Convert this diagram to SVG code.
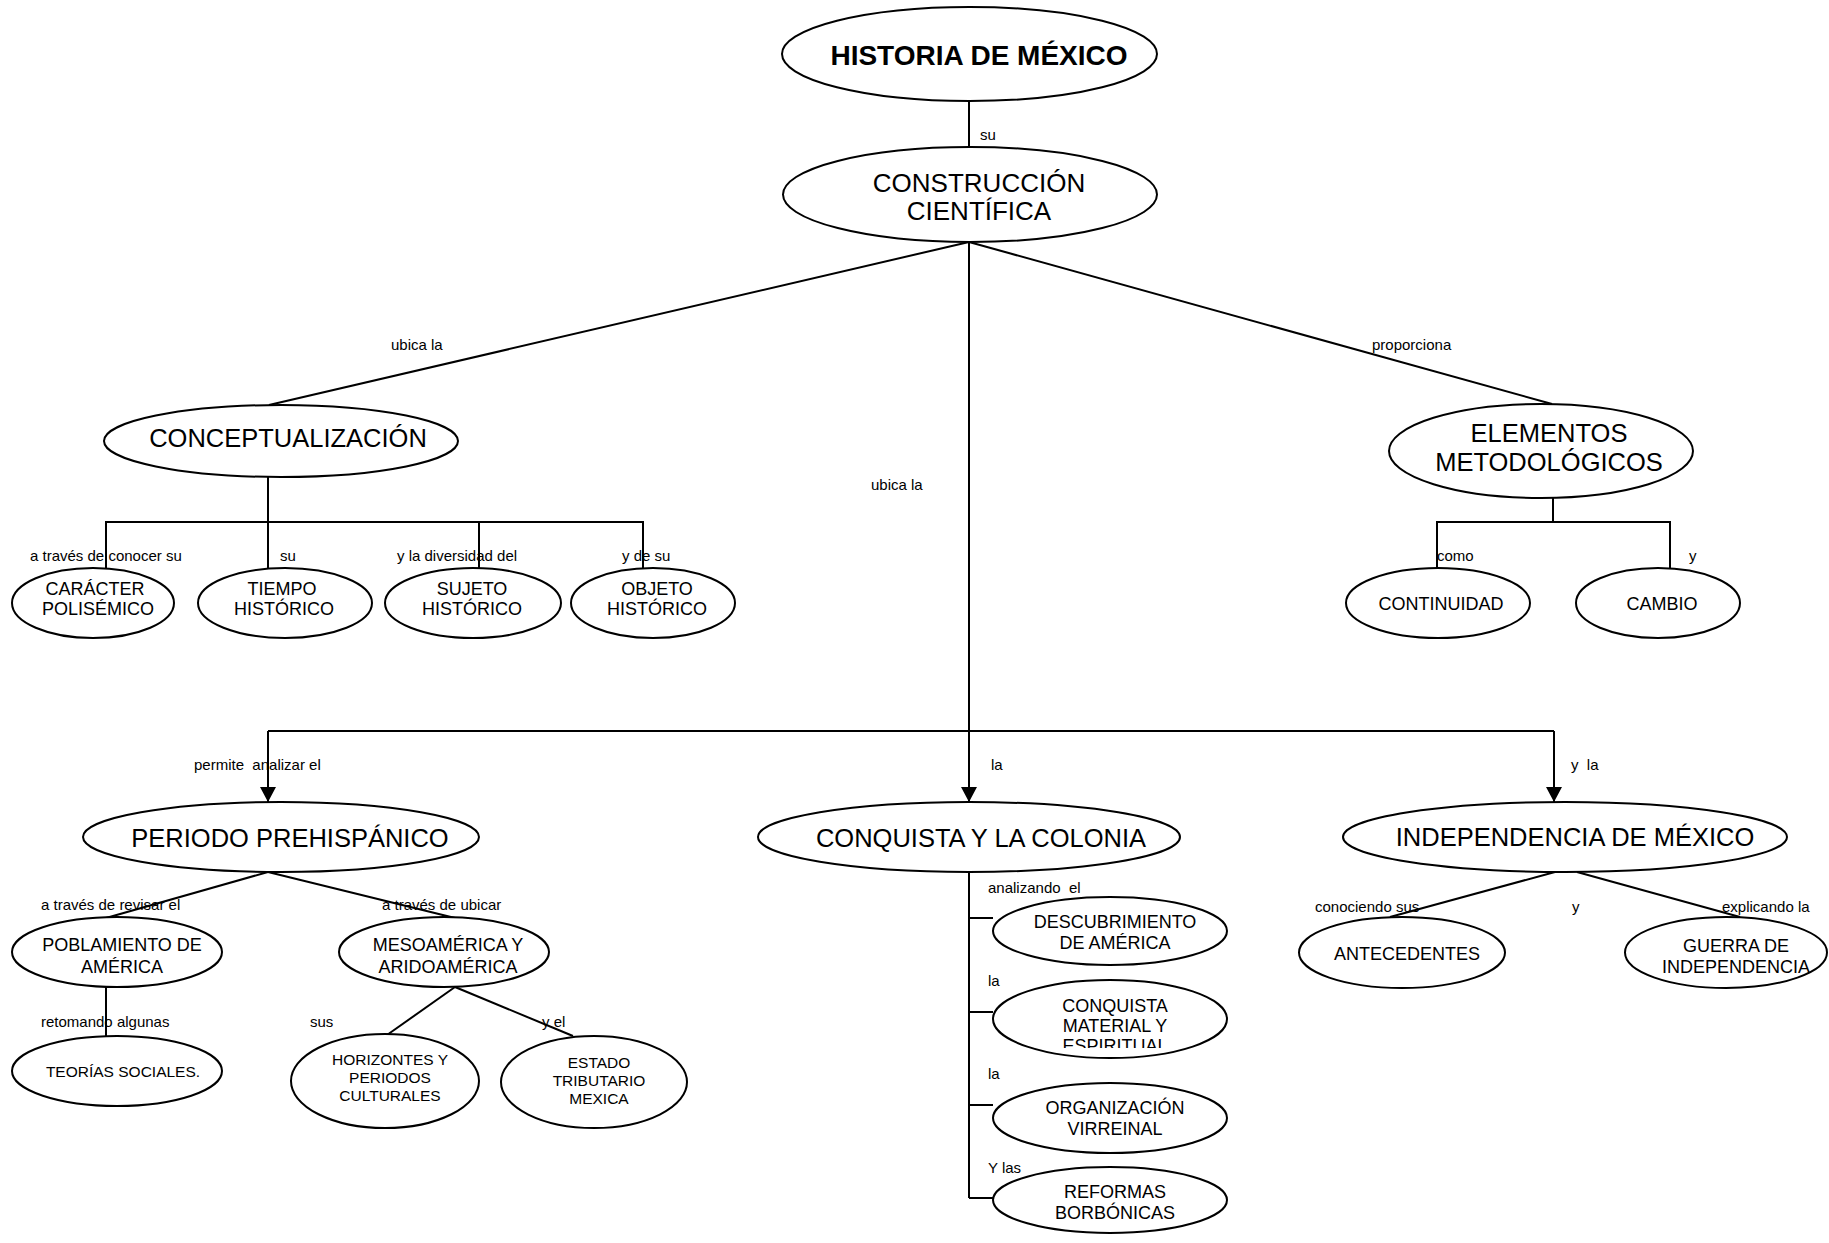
<svg xmlns="http://www.w3.org/2000/svg" width="1829" height="1243" viewBox="0 0 1829 1243">
<style>
.n{fill:#fff;stroke:#000;stroke-width:2}
.t{font-family:"Liberation Sans",Arial,sans-serif;text-anchor:middle;fill:#000}
.big{font-size:25.5px}
.mid{font-size:18px}
.sm{font-size:15.5px}
.lb{font-family:"Liberation Sans",Arial,sans-serif;font-size:15px;fill:#000}
.c{stroke:#000;stroke-width:2;fill:none}
</style>
<defs>
<marker id="ah" markerUnits="userSpaceOnUse" markerWidth="16" markerHeight="16" refX="15" refY="8" orient="auto" viewBox="0 0 16 16">
<path d="M0,0 L15,8 L0,16 Z" fill="#000"/>
</marker>
<clipPath id="clipEsp"><rect x="990" y="975" width="240" height="73"/></clipPath>
</defs>
<g id="connectors">
<line class="c" x1="969" y1="100" x2="969" y2="147"/>
<line class="c" x1="969" y1="242" x2="269" y2="405"/>
<line class="c" x1="969" y1="242" x2="1552" y2="404"/>
<line class="c" x1="969" y1="242" x2="969" y2="731"/>
<line class="c" x1="268" y1="477" x2="268" y2="522"/>
<polyline class="c" points="106,568 106,522 643,522 643,568"/>
<line class="c" x1="268" y1="522" x2="268" y2="568"/>
<line class="c" x1="479" y1="522" x2="479" y2="568"/>
<line class="c" x1="1553" y1="498" x2="1553" y2="522"/>
<polyline class="c" points="1437,568 1437,522 1670,522 1670,568"/>
<line class="c" x1="268" y1="731" x2="1554" y2="731"/>
<line class="c" x1="268" y1="731" x2="268" y2="802" marker-end="url(#ah)"/>
<line class="c" x1="969" y1="731" x2="969" y2="802" marker-end="url(#ah)"/>
<line class="c" x1="1554" y1="731" x2="1554" y2="802" marker-end="url(#ah)"/>
<line class="c" x1="268" y1="872" x2="106" y2="918"/>
<line class="c" x1="268" y1="872" x2="455" y2="918"/>
<line class="c" x1="106" y1="987" x2="106" y2="1036"/>
<line class="c" x1="455" y1="987" x2="387" y2="1035"/>
<line class="c" x1="455" y1="987" x2="573" y2="1036"/>
<line class="c" x1="969" y1="872" x2="969" y2="1198"/>
<line class="c" x1="969" y1="918" x2="993" y2="918"/>
<line class="c" x1="969" y1="1012" x2="993" y2="1012"/>
<line class="c" x1="969" y1="1105" x2="993" y2="1105"/>
<line class="c" x1="969" y1="1198" x2="993" y2="1198"/>
<line class="c" x1="1555" y1="872" x2="1390" y2="917"/>
<line class="c" x1="1577" y1="872" x2="1740" y2="917"/>
</g>
<g id="labels">
<text class="lb" x="980" y="140">su</text>
<text class="lb" x="391" y="350">ubica la</text>
<text class="lb" x="1372" y="350">proporciona</text>
<text class="lb" x="871" y="490">ubica la</text>
<text class="lb" x="30" y="561">a través de conocer su</text>
<text class="lb" x="280" y="561">su</text>
<text class="lb" x="397" y="561">y la diversidad del</text>
<text class="lb" x="622" y="561">y de su</text>
<text class="lb" x="1437" y="561">como</text>
<text class="lb" x="1689" y="561">y</text>
<text class="lb" x="194" y="770" xml:space="preserve">permite  analizar el</text>
<text class="lb" x="991" y="770">la</text>
<text class="lb" x="1571" y="770" xml:space="preserve">y  la</text>
<text class="lb" x="41" y="910">a través de revisar el</text>
<text class="lb" x="382" y="910">a través de ubicar</text>
<text class="lb" x="41" y="1027">retomando algunas</text>
<text class="lb" x="310" y="1027">sus</text>
<text class="lb" x="542" y="1027">y el</text>
<text class="lb" x="988" y="893" xml:space="preserve">analizando  el</text>
<text class="lb" x="988" y="986">la</text>
<text class="lb" x="988" y="1079">la</text>
<text class="lb" x="988" y="1173">Y las</text>
<text class="lb" x="1315" y="912">conociendo sus</text>
<text class="lb" x="1572" y="912">y</text>
<text class="lb" x="1722" y="912">explicando la</text>
</g>
<g id="historia">
<ellipse class="n" cx="969.5" cy="54" rx="187.5" ry="47"/>
<text class="t" x="979" y="65" font-size="28" font-weight="bold">HISTORIA DE MÉXICO</text>
</g>
<g id="construccion">
<ellipse class="n" cx="970" cy="194.5" rx="187" ry="47.5"/>
<text class="t" x="979" y="192" font-size="26">CONSTRUCCIÓN</text>
<text class="t" x="979" y="220" font-size="26">CIENTÍFICA</text>
</g>
<g id="conceptualizacion">
<ellipse class="n" cx="281" cy="441" rx="177" ry="36"/>
<text class="t big" x="288" y="447">CONCEPTUALIZACIÓN</text>
</g>
<g id="elementos">
<ellipse class="n" cx="1541" cy="451" rx="152" ry="47"/>
<text class="t big" x="1549" y="442">ELEMENTOS</text>
<text class="t big" x="1549" y="471">METODOLÓGICOS</text>
</g>
<g id="caracter">
<ellipse class="n" cx="93" cy="603" rx="81" ry="35"/>
<text class="t mid" x="95" y="595">CARÁCTER</text>
<text class="t mid" x="98" y="615">POLISÉMICO</text>
</g>
<g id="tiempo">
<ellipse class="n" cx="285" cy="603" rx="87" ry="35"/>
<text class="t mid" x="282" y="595">TIEMPO</text>
<text class="t mid" x="284" y="615">HISTÓRICO</text>
</g>
<g id="sujeto">
<ellipse class="n" cx="473" cy="603" rx="88" ry="35"/>
<text class="t mid" x="472" y="595">SUJETO</text>
<text class="t mid" x="472" y="615">HISTÓRICO</text>
</g>
<g id="objeto">
<ellipse class="n" cx="653" cy="603" rx="82" ry="35"/>
<text class="t mid" x="657" y="595">OBJETO</text>
<text class="t mid" x="657" y="615">HISTÓRICO</text>
</g>
<g id="continuidad">
<ellipse class="n" cx="1438" cy="603" rx="92" ry="35"/>
<text class="t mid" x="1441" y="610">CONTINUIDAD</text>
</g>
<g id="cambio">
<ellipse class="n" cx="1658" cy="603" rx="82" ry="35"/>
<text class="t mid" x="1662" y="610">CAMBIO</text>
</g>
<g id="prehispanico">
<ellipse class="n" cx="281" cy="837" rx="198" ry="35"/>
<text class="t big" x="290" y="847">PERIODO PREHISPÁNICO</text>
</g>
<g id="conquista">
<ellipse class="n" cx="969" cy="837" rx="211" ry="35"/>
<text class="t big" x="981" y="847">CONQUISTA Y LA COLONIA</text>
</g>
<g id="independencia">
<ellipse class="n" cx="1565" cy="837" rx="222" ry="35"/>
<text class="t big" x="1575" y="846">INDEPENDENCIA DE MÉXICO</text>
</g>
<g id="poblamiento">
<ellipse class="n" cx="117" cy="952" rx="105" ry="35"/>
<text class="t mid" x="122" y="951">POBLAMIENTO DE</text>
<text class="t mid" x="122" y="973">AMÉRICA</text>
</g>
<g id="mesoamerica">
<ellipse class="n" cx="444" cy="952" rx="105" ry="35"/>
<text class="t mid" x="448" y="951">MESOAMÉRICA Y</text>
<text class="t mid" x="448" y="973">ARIDOAMÉRICA</text>
</g>
<g id="teorias">
<ellipse class="n" cx="117" cy="1071" rx="105" ry="35"/>
<text class="t sm" x="123" y="1077">TEORÍAS SOCIALES.</text>
</g>
<g id="horizontes">
<ellipse class="n" cx="385" cy="1081" rx="94" ry="47"/>
<text class="t sm" x="390" y="1065">HORIZONTES Y</text>
<text class="t sm" x="390" y="1083">PERIODOS</text>
<text class="t sm" x="390" y="1101">CULTURALES</text>
</g>
<g id="estado">
<ellipse class="n" cx="594" cy="1082" rx="93" ry="46"/>
<text class="t sm" x="599" y="1068">ESTADO</text>
<text class="t sm" x="599" y="1086">TRIBUTARIO</text>
<text class="t sm" x="599" y="1104">MEXICA</text>
</g>
<g id="descubrimiento">
<ellipse class="n" cx="1110" cy="931" rx="117" ry="34"/>
<text class="t mid" x="1115" y="928">DESCUBRIMIENTO</text>
<text class="t mid" x="1115" y="949">DE AMÉRICA</text>
</g>
<g id="conquista-material">
<ellipse class="n" cx="1110" cy="1019" rx="117" ry="39"/>
<g clip-path="url(#clipEsp)">
<text class="t mid" x="1115" y="1012">CONQUISTA</text>
<text class="t mid" x="1115" y="1032">MATERIAL Y</text>
<text class="t mid" x="1115" y="1052">ESPIRITUAL</text>
</g>
</g>
<g id="organizacion">
<ellipse class="n" cx="1110" cy="1118" rx="117" ry="35"/>
<text class="t mid" x="1115" y="1114">ORGANIZACIÓN</text>
<text class="t mid" x="1115" y="1135">VIRREINAL</text>
</g>
<g id="reformas">
<ellipse class="n" cx="1110" cy="1200" rx="117" ry="33"/>
<text class="t mid" x="1115" y="1198">REFORMAS</text>
<text class="t mid" x="1115" y="1219">BORBÓNICAS</text>
</g>
<g id="antecedentes">
<ellipse class="n" cx="1402" cy="952.5" rx="103" ry="35.5"/>
<text class="t mid" x="1407" y="960">ANTECEDENTES</text>
</g>
<g id="guerra">
<ellipse class="n" cx="1726" cy="952.5" rx="101" ry="35.5"/>
<text class="t mid" x="1736" y="952">GUERRA DE</text>
<text class="t mid" x="1736" y="973">INDEPENDENCIA</text>
</g>
</svg>
